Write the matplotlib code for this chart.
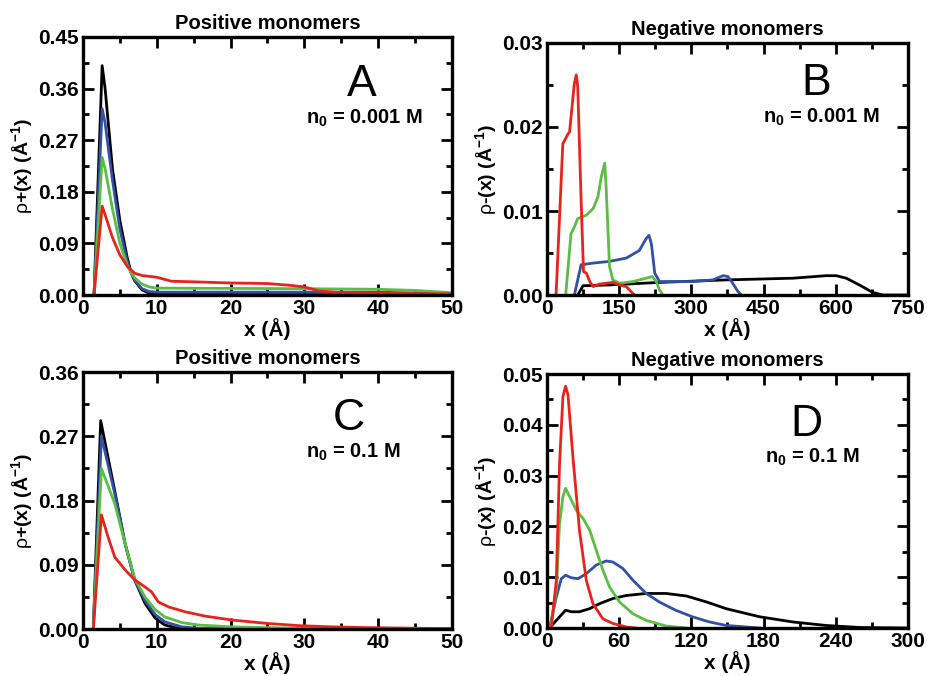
import matplotlib
matplotlib.use("Agg")
import matplotlib.pyplot as plt
from matplotlib.ticker import MultipleLocator

plt.rcParams["font.family"] = ["Liberation Sans", "DejaVu Sans"]
plt.rcParams["mathtext.fontset"] = "custom"
plt.rcParams["mathtext.rm"] = "Liberation Sans"
plt.rcParams["mathtext.bf"] = "Liberation Sans:bold"
plt.rcParams["mathtext.default"] = "bf"

RED = "#e8231c"
GREEN = "#5cbd45"
BLUE = "#3150a6"
BLACK = "#000000"

# ---- panel A: positive monomers, n0 = 0.001 M ----
a_black_x = [1.5, 2.6, 3, 4, 5, 6, 6.5, 7, 8, 9, 10, 50]
a_black_y = [0, 0.40, 0.36, 0.22, 0.13, 0.065, 0.04, 0.025, 0.009, 0.003, 0.001, 0.0005]
a_blue_x = [1.5, 2.6, 3, 4, 5, 6, 6.5, 7, 8, 9, 10, 20, 40, 50]
a_blue_y = [0, 0.325, 0.30, 0.20, 0.115, 0.058, 0.039, 0.026, 0.011, 0.006, 0.005, 0.005, 0.005, 0.002]
a_green_x = [1.5, 2.6, 3, 4, 5, 6, 6.5, 7, 8, 9, 10, 20, 30, 40, 45, 50]
a_green_y = [0, 0.24, 0.22, 0.15, 0.09, 0.052, 0.039, 0.03, 0.019, 0.014, 0.012, 0.0115, 0.011, 0.01, 0.008, 0.004]
a_red_x = [1.5, 2.6, 3, 4, 5, 6, 7, 8, 10, 12, 15, 20, 25, 28, 30, 32, 35, 40, 50]
a_red_y = [0, 0.155, 0.14, 0.10, 0.07, 0.05, 0.038, 0.034, 0.031, 0.024, 0.023, 0.021, 0.02, 0.017, 0.014, 0.007, 0.004, 0.003, 0.002]

# ---- panel B: negative monomers, n0 = 0.001 M ----
b_red_x = [19, 33, 44, 47, 57, 61, 64, 71, 76, 82, 89, 96, 109, 137, 151, 165, 175, 182]
b_red_y = [0, 0.018, 0.0192, 0.0194, 0.0252, 0.0262, 0.0248, 0.0113, 0.0028, 0.0026, 0.0016, 0.001, 0.0013, 0.0015, 0.0012, 0.001, 0.0004, 0]
b_green_x = [39, 50, 57, 64, 82, 96, 106, 113, 120, 123, 130, 137, 151, 179, 206, 219, 227, 234, 241]
b_green_y = [0, 0.0073, 0.0081, 0.0091, 0.0095, 0.0103, 0.0117, 0.0141, 0.0157, 0.0129, 0.0034, 0.0018, 0.0014, 0.0016, 0.002, 0.0022, 0.0016, 0.0006, 0]
b_blue_x = [57, 71, 96, 130, 165, 192, 206, 212, 217, 224, 234, 303, 345, 366, 376, 386, 397, 404]
b_blue_y = [0, 0.0036, 0.0038, 0.004, 0.0044, 0.0053, 0.0067, 0.0071, 0.0061, 0.0026, 0.0016, 0.0016, 0.0018, 0.0023, 0.0022, 0.0014, 0.0004, 0]
b_black_x = [64, 75, 130, 234, 373, 511, 580, 601, 622, 649, 677, 698, 750]
b_black_y = [0, 0.0011, 0.0012, 0.0015, 0.0018, 0.002, 0.0023, 0.0023, 0.002, 0.0012, 0.0003, 0, 0]

# ---- panel C: positive monomers, n0 = 0.1 M ----
c_black_x = [1.4, 2.4, 4.3, 5.7, 7.0, 8.4, 9.8, 11.1, 12.5, 15.7, 50]
c_black_y = [0, 0.292, 0.194, 0.12, 0.069, 0.036, 0.015, 0.0056, 0.002, 0, 0]
c_blue_x = [1.4, 2.5, 4.3, 5.7, 7.0, 8.4, 9.8, 11.1, 13.4, 15.7, 50]
c_blue_y = [0, 0.27, 0.19, 0.12, 0.069, 0.04, 0.02, 0.01, 0.003, 0.001, 0]
c_green_x = [1.4, 2.5, 4.3, 5.7, 7.0, 8.4, 9.8, 11.1, 13.4, 15.7, 20.2, 24.8, 33.9, 50]
c_green_y = [0, 0.225, 0.176, 0.12, 0.071, 0.045, 0.027, 0.017, 0.009, 0.0056, 0.003, 0.002, 0.0005, 0]
c_red_x = [1.4, 2.5, 3.4, 4.3, 5.7, 7.0, 8.4, 9.3, 10.2, 11.6, 13.9, 16.6, 20.2, 24.8, 29.3, 33.9, 38.4, 50]
c_red_y = [0, 0.16, 0.129, 0.101, 0.083, 0.069, 0.059, 0.052, 0.038, 0.031, 0.024, 0.018, 0.0126, 0.008, 0.0047, 0.003, 0.002, 0.0005]

# ---- panel D: negative monomers, n0 = 0.1 M ----
d_red_x = [3.6, 7.8, 10.5, 13.3, 15.5, 17.5, 21.6, 27, 32.7, 38.2, 46.5, 54.8, 66, 74]
d_red_y = [0, 0.0094, 0.0324, 0.0456, 0.0476, 0.0459, 0.0337, 0.0193, 0.0094, 0.0048, 0.0018, 0.0009, 0.0002, 0]
d_green_x = [2.8, 7.8, 10.5, 13.3, 15.5, 18.8, 24.4, 29.9, 35.5, 41, 46.5, 52, 60.4, 71.5, 82.5, 99, 116]
d_green_y = [0, 0.0074, 0.0206, 0.0259, 0.0275, 0.0259, 0.0232, 0.0216, 0.0193, 0.0153, 0.0114, 0.0081, 0.0051, 0.0028, 0.0015, 0.0004, 0]
d_blue_x = [2.2, 7.8, 11.9, 15.5, 20.2, 25.8, 32.7, 41, 49.3, 54.8, 63.2, 71.5, 82.5, 93.6, 107, 121, 135, 149, 177]
d_blue_y = [0, 0.0061, 0.0097, 0.0104, 0.0099, 0.0097, 0.0107, 0.0124, 0.0132, 0.013, 0.0117, 0.0094, 0.0068, 0.0051, 0.0035, 0.0022, 0.0012, 0.0005, 0]
d_black_x = [2.2, 10.5, 15.5, 20.2, 27, 35.5, 43.8, 54.8, 66, 82.5, 99, 116, 133, 149, 177, 204, 232, 260, 300]
d_black_y = [0, 0.0022, 0.0035, 0.0032, 0.0032, 0.0038, 0.0048, 0.0058, 0.0064, 0.0068, 0.0068, 0.0063, 0.0051, 0.0038, 0.0022, 0.0012, 0.0005, 0.0001, 0]

fig = plt.figure(figsize=(9.27, 6.76), dpi=100)


def style_axes(ax, xmax, xmaj, xmin, ymax, ymaj, ymin):
    ax.set_xlim(0, xmax)
    ax.set_ylim(0, ymax)
    ax.xaxis.set_major_locator(MultipleLocator(xmaj))
    ax.xaxis.set_minor_locator(MultipleLocator(xmin))
    ax.yaxis.set_major_locator(MultipleLocator(ymaj))
    ax.yaxis.set_minor_locator(MultipleLocator(ymin))
    ax.tick_params(which="both", direction="in", top=True, right=True, width=2)
    ax.tick_params(which="major", length=8, labelsize=15, pad=3)
    ax.tick_params(which="minor", length=4)
    for lab in ax.get_xticklabels() + ax.get_yticklabels():
        lab.set_fontweight("bold")
    for sp in ax.spines.values():
        sp.set_linewidth(2.4)
    ax.set_xlabel("x (Å)", fontsize=15, fontweight="bold", labelpad=0)


def draw_panel(rect, series, xlim, ylim, ydec, title, sign, letter, conc, lpos, cpos):
    ax = fig.add_axes(rect)
    for xs, ys, col in series:
        ax.plot(xs, ys, color=col, lw=2.0)
    style_axes(ax, *xlim, *ylim)
    ax.yaxis.set_major_formatter(plt.FuncFormatter(lambda v, p: f"{v:.{ydec}f}"))
    ax.set_title(title, fontsize=14.5, fontweight="bold", pad=6)
    ax.set_ylabel(r"$\mathrm{\rho}$" + sign + r"(x) (Å$^{-1}$)", fontsize=14,
                  fontweight="bold", labelpad=2)
    ax.text(*lpos, letter, transform=ax.transAxes, fontsize=32, ha="center", va="center")
    ax.text(*cpos, r"n$_0$ = " + conc, transform=ax.transAxes, fontsize=14.5,
            ha="center", va="center", fontweight="bold")
    return ax


draw_panel([0.0895, 0.5636, 0.398, 0.3817],
           [(a_black_x, a_black_y, BLACK), (a_blue_x, a_blue_y, BLUE),
            (a_green_x, a_green_y, GREEN), (a_red_x, a_red_y, RED)],
           (50, 10, 5), (0.45, 0.09, 0.045), 2,
           "Positive monomers", "+", "A", "0.001 M", (0.756, 0.814), (0.762, 0.686))

draw_panel([0.590, 0.5636, 0.3894, 0.3728],
           [(b_black_x, b_black_y, BLACK), (b_blue_x, b_blue_y, BLUE),
            (b_green_x, b_green_y, GREEN), (b_red_x, b_red_y, RED)],
           (750, 150, 75), (0.03, 0.01, 0.005), 2,
           "Negative monomers", "-", "B", "0.001 M", (0.745, 0.841), (0.762, 0.706))

draw_panel([0.0895, 0.0695, 0.398, 0.380],
           [(c_black_x, c_black_y, BLACK), (c_blue_x, c_blue_y, BLUE),
            (c_green_x, c_green_y, GREEN), (c_red_x, c_red_y, RED)],
           (50, 10, 5), (0.36, 0.09, 0.045), 2,
           "Positive monomers", "+", "C", "0.1 M", (0.72, 0.821), (0.732, 0.689))

draw_panel([0.590, 0.071, 0.3894, 0.3757],
           [(d_black_x, d_black_y, BLACK), (d_blue_x, d_blue_y, BLUE),
            (d_green_x, d_green_y, GREEN), (d_red_x, d_red_y, RED)],
           (300, 60, 30), (0.05, 0.01, 0.005), 2,
           "Negative monomers", "-", "D", "0.1 M", (0.72, 0.80), (0.734, 0.673))

fig.savefig("out.png", dpi=100)
